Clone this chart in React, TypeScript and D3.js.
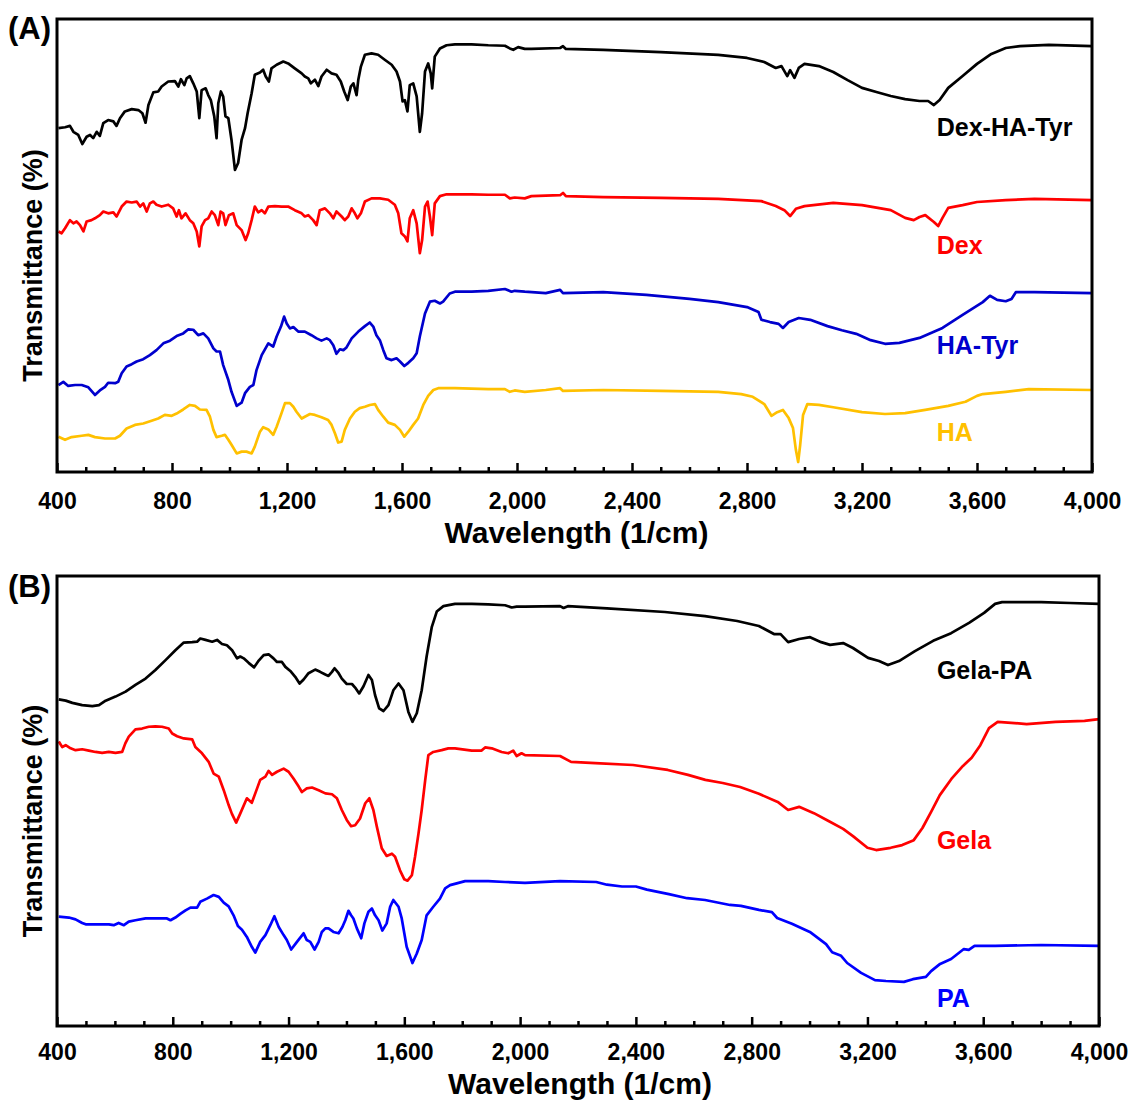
import React, { useEffect, useRef } from "react";
import * as d3 from "d3";

type Pt = [number, number]; // [wavenumber (1/cm), transmittance (a.u., offset per trace)]

// ---- panel A ----
const dexHaTyr: Pt[] = [[405,75.9],[428,76.1],[445,76.4],[457,75.1],[474,74.4],[488,72.4],[503,74.0],[515,74.4],[526,73.7],[538,75.1],[549,74.2],[561,77.0],[578,77.7],[596,77.4],[607,76.4],[619,78.1],[636,79.6],[660,80.1],[683,79.9],[697,79.2],[708,77.1],[718,81.0],[735,83.8],[752,84.0],[764,85.1],[787,86.2],[810,86.3],[822,85.1],[831,86.7],[843,85.4],[851,86.9],[862,87.4],[874,85.8],[886,84.0],[895,78.1],[903,84.3],[917,84.7],[926,83.2],[935,82.1],[947,78.5],[955,73.7],[961,81.4],[970,84.0],[978,82.9],[986,78.5],[996,78.1],[1007,73.3],[1019,66.7],[1030,68.2],[1042,73.3],[1054,75.9],[1063,79.2],[1077,83.6],[1088,87.7],[1106,88.2],[1117,88.8],[1126,87.3],[1137,86.2],[1146,89.1],[1164,89.9],[1187,90.6],[1204,90.2],[1227,89.1],[1251,88.0],[1262,87.3],[1274,86.9],[1283,85.8],[1297,86.6],[1309,85.2],[1320,87.3],[1338,88.8],[1355,88.0],[1372,87.7],[1387,86.2],[1399,84.0],[1411,82.1],[1422,85.1],[1431,85.8],[1442,83.2],[1448,86.6],[1457,89.5],[1471,92.1],[1494,92.4],[1517,92.1],[1540,91.0],[1564,89.9],[1581,88.4],[1593,86.2],[1602,81.8],[1610,82.1],[1619,79.6],[1627,85.4],[1639,85.8],[1651,82.9],[1662,75.1],[1670,79.2],[1680,88.4],[1691,90.2],[1700,88.0],[1705,84.7],[1714,91.7],[1732,93.5],[1755,94.2],[1784,94.4],[1842,94.4],[1900,94.2],[1958,94.1],[1975,93.5],[1987,93.2],[2004,93.8],[2027,93.4],[2050,93.4],[2150,93.6],[2160,94.0],[2170,93.4],[2300,93.2],[2500,92.7],[2700,92.1],[2800,91.4],[2860,90.5],[2900,89.2],[2920,89.6],[2940,87.4],[2950,88.7],[2965,87.0],[2980,89.2],[3000,90.1],[3050,89.6],[3100,88.3],[3150,86.5],[3200,84.8],[3250,83.9],[3300,83.0],[3350,82.3],[3400,81.9],[3430,81.9],[3450,81.0],[3470,82.1],[3500,84.8],[3550,87.4],[3600,90.1],[3650,92.3],[3700,93.6],[3750,94.0],[3850,94.3],[4000,94.0]];

const dex: Pt[] = [[405,53.1],[416,52.7],[428,53.8],[445,55.6],[457,54.9],[468,55.3],[480,54.5],[492,53.1],[503,55.3],[520,55.6],[532,56.0],[549,56.7],[561,57.5],[578,57.1],[596,57.3],[607,56.4],[625,58.6],[642,59.7],[660,59.5],[677,59.7],[689,58.6],[700,59.3],[712,57.5],[723,59.3],[735,59.7],[746,59.0],[764,58.6],[787,59.0],[804,58.2],[816,56.4],[824,57.8],[833,56.0],[847,57.1],[862,55.6],[874,54.9],[886,53.1],[895,49.8],[903,54.2],[915,55.6],[926,56.0],[938,57.5],[949,56.7],[961,54.5],[969,57.5],[978,57.1],[986,54.5],[998,56.7],[1013,57.1],[1025,54.5],[1042,53.4],[1056,51.2],[1065,52.7],[1077,55.6],[1088,58.6],[1100,57.3],[1112,57.8],[1123,57.1],[1135,58.6],[1158,58.7],[1181,58.6],[1204,58.6],[1227,57.8],[1251,57.1],[1262,56.4],[1274,56.7],[1291,55.6],[1303,54.5],[1314,57.8],[1332,58.2],[1349,57.1],[1361,56.0],[1372,57.5],[1390,56.4],[1401,55.6],[1413,56.4],[1425,58.2],[1436,57.1],[1445,56.0],[1457,57.1],[1471,59.7],[1494,60.4],[1523,60.4],[1552,60.1],[1575,59.0],[1587,57.1],[1598,52.7],[1610,52.0],[1619,50.9],[1627,56.0],[1639,57.8],[1651,54.9],[1662,48.3],[1670,51.2],[1680,58.6],[1689,59.7],[1697,56.4],[1705,52.3],[1714,59.3],[1732,60.9],[1755,61.3],[1842,61.3],[1900,61.2],[1958,61.2],[1975,60.4],[1992,60.6],[2027,60.4],[2050,60.9],[2150,61.1],[2160,61.6],[2170,60.9],[2300,60.7],[2500,60.5],[2700,60.3],[2850,59.8],[2900,58.7],[2930,57.8],[2950,56.5],[2970,58.1],[3000,58.7],[3100,59.4],[3200,58.9],[3300,57.8],[3350,56.1],[3380,55.6],[3400,56.3],[3420,56.7],[3450,55.2],[3465,54.3],[3480,56.1],[3500,58.3],[3550,58.9],[3600,59.6],[3700,60.0],[3800,60.3],[4000,60.0]];

const haTyr: Pt[] = [[405,19.2],[422,19.9],[439,19.0],[463,19.2],[486,19.2],[509,18.7],[532,17.0],[549,18.0],[567,18.8],[578,19.7],[602,19.6],[613,19.9],[625,21.8],[642,23.3],[660,23.8],[677,24.4],[700,24.9],[723,25.8],[746,26.9],[770,28.4],[793,29.0],[816,30.0],[839,30.6],[857,31.5],[874,31.4],[891,30.2],[909,30.6],[926,29.5],[944,27.3],[955,26.6],[967,26.6],[978,23.6],[996,20.3],[1007,17.7],[1025,14.6],[1042,15.3],[1054,17.4],[1071,18.8],[1083,19.2],[1094,22.5],[1112,25.8],[1135,28.4],[1152,27.7],[1164,29.9],[1179,32.1],[1190,34.3],[1199,32.8],[1210,31.7],[1222,32.0],[1239,31.0],[1262,31.0],[1285,30.2],[1303,29.5],[1320,29.0],[1338,29.5],[1349,29.1],[1361,28.0],[1372,26.1],[1384,27.1],[1396,26.9],[1407,27.5],[1425,29.5],[1448,31.0],[1471,32.2],[1488,33.0],[1500,32.1],[1511,30.2],[1523,29.1],[1535,26.9],[1546,25.1],[1564,24.7],[1581,25.1],[1593,24.4],[1608,23.4],[1622,24.1],[1639,25.1],[1651,26.2],[1662,29.9],[1680,35.0],[1697,37.6],[1714,37.8],[1732,37.2],[1743,37.6],[1766,39.4],[1784,39.8],[1842,39.8],[1900,40.0],[1958,40.4],[1981,39.8],[1992,40.0],[2027,39.8],[2100,39.5],[2150,40.2],[2160,39.5],[2300,39.7],[2450,39.1],[2600,38.2],[2700,37.5],[2800,36.4],[2840,35.3],[2850,33.6],[2880,33.1],[2910,32.7],[2925,31.8],[2945,33.1],[2980,34.0],[3020,33.6],[3080,32.2],[3130,31.3],[3180,30.5],[3230,29.1],[3280,28.3],[3330,28.5],[3400,29.6],[3480,31.8],[3550,34.7],[3620,37.5],[3645,38.9],[3670,38.0],[3700,37.7],[3720,38.2],[3735,39.7],[3800,39.7],[4000,39.5]];

const ha: Pt[] = [[405,7.8],[428,7.1],[451,7.7],[486,8.0],[509,8.2],[532,7.7],[567,7.4],[602,7.4],[619,8.0],[642,9.6],[671,10.4],[700,10.7],[729,11.3],[752,11.8],[775,12.6],[799,12.4],[816,12.9],[839,13.8],[862,14.8],[880,14.6],[897,13.8],[920,13.7],[932,12.2],[944,9.3],[955,7.7],[973,8.0],[984,8.2],[996,7.1],[1007,6.0],[1025,4.1],[1042,4.5],[1059,4.5],[1077,4.1],[1088,5.6],[1106,8.9],[1117,9.9],[1135,9.4],[1152,8.2],[1164,10.0],[1181,13.0],[1193,15.2],[1210,15.2],[1222,14.4],[1233,13.3],[1251,11.8],[1262,12.2],[1280,12.8],[1297,12.6],[1320,12.1],[1343,11.5],[1355,10.4],[1367,8.5],[1378,6.5],[1390,6.7],[1401,9.3],[1419,11.8],[1436,13.3],[1453,14.1],[1471,14.4],[1488,14.8],[1506,15.0],[1517,13.7],[1535,12.2],[1552,10.9],[1575,10.4],[1593,9.3],[1608,7.8],[1622,8.9],[1639,10.4],[1656,11.8],[1674,14.8],[1691,16.8],[1709,18.1],[1726,18.5],[1784,18.5],[1900,18.3],[1958,18.3],[1975,17.7],[1992,18.0],[2027,17.7],[2100,18.1],[2150,18.5],[2160,17.9],[2300,18.1],[2500,17.9],[2700,17.7],[2780,17.2],[2820,16.6],[2860,15.0],[2885,12.4],[2905,13.2],[2925,13.7],[2945,11.9],[2960,9.7],[2970,4.9],[2978,2.2],[2985,6.0],[2995,12.6],[3010,15.0],[3050,14.8],[3100,14.3],[3200,13.2],[3280,12.8],[3350,13.0],[3420,13.7],[3500,14.6],[3560,15.5],[3600,16.8],[3620,17.2],[3700,17.7],[3780,18.3],[4000,18.1]];

// ---- panel B ----
const gelaPa: Pt[] = [[406,72.6],[430,72.3],[453,71.8],[487,71.3],[522,71.1],[545,71.3],[568,72.3],[602,73.2],[637,74.3],[671,75.8],[706,77.2],[740,79.1],[775,81.3],[809,83.5],[838,85.2],[867,85.3],[884,85.4],[895,86.1],[913,85.8],[936,85.4],[953,85.8],[970,84.9],[987,84.6],[1005,83.5],[1022,81.7],[1033,82.1],[1045,81.7],[1062,80.7],[1081,79.7],[1097,81.2],[1114,82.4],[1131,82.6],[1148,81.7],[1160,80.9],[1177,80.9],[1189,79.8],[1206,78.9],[1223,77.6],[1238,76.1],[1252,77.0],[1269,78.4],[1292,79.2],[1309,78.7],[1327,78.1],[1338,77.8],[1350,78.7],[1359,79.5],[1373,78.4],[1384,77.2],[1401,76.0],[1419,76.0],[1430,75.2],[1444,73.9],[1459,75.5],[1476,78.0],[1488,76.9],[1499,73.5],[1513,70.6],[1528,70.0],[1545,71.3],[1562,74.6],[1580,76.1],[1597,74.6],[1614,69.8],[1628,67.6],[1643,69.5],[1660,74.6],[1677,82.1],[1695,88.7],[1712,92.1],[1735,93.3],[1775,93.8],[1833,93.8],[1890,93.7],[1948,93.5],[1971,93.0],[1988,93.2],[2017,93.2],[2138,93.3],[2150,92.9],[2165,93.3],[2300,92.8],[2500,92.0],[2639,91.1],[2750,90.0],[2825,88.9],[2877,87.1],[2900,87.1],[2926,85.3],[2964,86.0],[3002,86.4],[3040,85.3],[3071,84.7],[3116,85.1],[3150,84.0],[3202,81.8],[3240,81.1],[3271,80.2],[3309,81.1],[3364,83.3],[3427,85.6],[3489,87.3],[3551,89.6],[3603,91.8],[3641,93.8],[3665,94.2],[3800,94.2],[3900,94.0],[4000,93.8]];

const gela: Pt[] = [[406,63.2],[418,62.0],[430,62.4],[447,61.7],[464,61.3],[487,61.5],[510,61.2],[533,60.9],[556,60.7],[579,60.9],[602,60.7],[625,60.9],[636,62.8],[648,64.3],[671,65.9],[694,66.1],[717,66.5],[740,66.6],[763,66.5],[786,66.1],[798,65.0],[815,64.4],[838,63.9],[867,63.7],[878,62.0],[901,60.6],[924,58.7],[941,56.1],[959,55.4],[976,52.4],[993,49.1],[1004,47.2],[1019,45.2],[1033,47.2],[1056,50.6],[1073,49.6],[1085,51.7],[1102,54.7],[1120,55.4],[1131,56.7],[1143,55.8],[1160,56.5],[1183,57.2],[1200,56.5],[1217,55.0],[1235,53.2],[1246,52.0],[1263,52.8],[1281,53.0],[1304,52.4],[1327,51.7],[1350,51.5],[1367,50.6],[1384,48.0],[1401,45.8],[1416,44.4],[1430,44.6],[1447,46.1],[1465,49.5],[1479,50.6],[1493,48.0],[1505,44.3],[1522,39.5],[1539,37.8],[1557,38.3],[1568,37.6],[1585,34.6],[1600,32.6],[1611,32.3],[1626,33.5],[1637,37.6],[1649,42.8],[1660,48.0],[1672,54.6],[1683,60.2],[1700,60.9],[1729,61.3],[1752,61.7],[1775,61.7],[1833,61.2],[1867,61.2],[1879,61.9],[1902,61.7],[1936,60.9],[1959,60.6],[1976,61.2],[1988,60.0],[2005,60.6],[2017,60.2],[2138,60.0],[2176,58.7],[2260,58.4],[2390,58.0],[2510,56.9],[2580,55.8],[2640,54.7],[2700,54.0],[2760,53.1],[2825,51.6],[2890,49.8],[2926,48.0],[2964,48.7],[3015,47.3],[3064,45.6],[3116,43.8],[3150,42.2],[3200,39.6],[3230,39.1],[3280,39.6],[3320,40.2],[3360,41.3],[3390,44.0],[3420,47.6],[3450,51.3],[3490,54.9],[3530,57.8],[3560,59.6],[3590,62.4],[3620,66.2],[3650,67.6],[3750,67.1],[3850,67.6],[3950,67.8],[4000,68.2]];

const pa: Pt[] = [[406,24.3],[441,24.1],[464,23.7],[487,22.9],[499,22.6],[533,22.6],[579,22.6],[596,22.4],[613,22.9],[631,22.4],[648,23.2],[671,23.5],[706,23.9],[740,23.9],[780,23.9],[792,23.5],[809,24.1],[826,24.9],[844,25.7],[861,26.3],[884,26.3],[895,27.6],[918,28.3],[941,29.1],[959,28.7],[976,27.4],[993,26.6],[1010,24.6],[1025,22.2],[1039,21.4],[1056,19.8],[1073,17.6],[1085,16.3],[1102,18.7],[1120,20.2],[1137,22.4],[1151,24.4],[1166,22.0],[1183,20.2],[1194,19.1],[1209,17.0],[1229,18.7],[1252,20.6],[1263,19.1],[1275,18.7],[1290,17.0],[1304,18.7],[1315,20.9],[1327,21.7],[1338,21.7],[1355,20.9],[1373,20.6],[1386,22.0],[1396,23.5],[1407,25.6],[1416,24.6],[1424,23.9],[1436,21.7],[1451,19.5],[1462,22.8],[1476,25.4],[1488,26.1],[1499,24.6],[1511,23.5],[1524,21.2],[1539,22.8],[1551,26.5],[1562,28.0],[1580,26.5],[1591,23.9],[1608,17.6],[1628,14.0],[1643,16.1],[1660,19.1],[1677,24.6],[1700,26.5],[1723,28.3],[1741,30.6],[1758,31.3],[1781,31.7],[1810,32.2],[1890,32.2],[1948,32.0],[2017,31.8],[2138,32.2],[2263,32.0],[2300,31.4],[2352,31.0],[2400,31.0],[2438,30.3],[2514,29.3],[2577,28.4],[2639,28.0],[2725,26.9],[2763,26.7],[2825,25.8],[2870,25.3],[2888,24.0],[2939,22.7],[3001,20.9],[3057,18.2],[3078,16.4],[3109,15.6],[3130,14.0],[3178,11.8],[3226,10.2],[3264,10.0],[3326,9.8],[3357,10.4],[3402,10.9],[3420,12.2],[3451,13.8],[3489,14.9],[3533,17.1],[3550,16.9],[3570,17.8],[3641,17.8],[3800,18.0],[4000,17.8]];

const majorTicks = d3.range(400, 4001, 400);
const minorTicks = d3.range(500, 4000, 100).filter(v => v % 400 !== 0);

const FONT = "'Liberation Sans', Arial, sans-serif";

interface Series { name: string; color: string; data: Pt[]; labelT: number; }
interface Panel {
  letter: string; left: number; right: number; top: number; bottom: number;
  tickPad: number; titleY: number; letterY: number; labelWn: number; series: Series[];
}

const panels: Panel[] = [
  {
    letter: "(A)", left: 57, right: 1092, top: 19, bottom: 472,
    tickPad: 21, titleY: 543, letterY: 39, labelWn: 3460,
    series: [
      { name: "Dex-HA-Tyr", color: "#000000", data: dexHaTyr, labelT: 76.2 },
      { name: "Dex", color: "#ff0000", data: dex, labelT: 50.1 },
      { name: "HA-Tyr", color: "#0000cd", data: haTyr, labelT: 28.0 },
      { name: "HA", color: "#ffc000", data: ha, labelT: 8.8 },
    ],
  },
  {
    letter: "(B)", left: 57, right: 1099, top: 576, bottom: 1026,
    tickPad: 18, titleY: 1094, letterY: 597, labelWn: 3440,
    series: [
      { name: "Gela-PA", color: "#000000", data: gelaPa, labelT: 79.1 },
      { name: "Gela", color: "#ff0000", data: gela, labelT: 41.3 },
      { name: "PA", color: "#0000ff", data: pa, labelT: 6.2 },
    ],
  },
];

function drawPanel(svg: d3.Selection<SVGSVGElement, unknown, null, undefined>, p: Panel) {
  const x = d3.scaleLinear().domain([400, 4000]).range([p.left, p.right]);
  const y = d3.scaleLinear().domain([0, 100]).range([p.bottom, p.top]);
  const g = svg.append("g");

  const line = d3.line<Pt>().x(d => x(d[0])).y(d => y(d[1]));

  p.series.forEach(s => {
    g.append("path")
      .datum(s.data)
      .attr("fill", "none")
      .attr("stroke", s.color)
      .attr("stroke-width", 2.7)
      .attr("stroke-linejoin", "round")
      .attr("d", line);

    g.append("text")
      .attr("x", x(p.labelWn))
      .attr("y", y(s.labelT))
      .attr("dy", "0.36em")
      .attr("fill", s.color)
      .attr("font-family", FONT)
      .attr("font-weight", "bold")
      .attr("font-size", 25)
      .text(s.name);
  });

  // minor ticks (inside)
  g.append("g")
    .attr("transform", `translate(0,${p.bottom})`)
    .call(d3.axisBottom(x).tickValues(minorTicks).tickSize(-5).tickFormat(() => ""))
    .call(a => a.select(".domain").remove())
    .selectAll("line").attr("stroke", "#000").attr("stroke-width", 2.5);

  // major ticks + labels
  const ax = g.append("g")
    .attr("transform", `translate(0,${p.bottom})`)
    .call(d3.axisBottom(x).tickValues(majorTicks).tickSizeInner(-9).tickSizeOuter(0)
      .tickPadding(p.tickPad).tickFormat(d3.format(",")))
    .call(a => a.select(".domain").remove());
  ax.selectAll("line").attr("stroke", "#000").attr("stroke-width", 2.5);
  ax.selectAll("text")
    .attr("fill", "#000")
    .attr("font-family", FONT)
    .attr("font-weight", "bold")
    .attr("font-size", 23);

  // frame
  g.append("rect")
    .attr("x", p.left).attr("y", p.top)
    .attr("width", p.right - p.left).attr("height", p.bottom - p.top)
    .attr("fill", "none").attr("stroke", "#000").attr("stroke-width", 3);

  // axis titles
  g.append("text")
    .attr("x", (p.left + p.right) / 2 + 2)
    .attr("y", p.titleY)
    .attr("text-anchor", "middle")
    .attr("font-family", FONT).attr("font-weight", "bold").attr("font-size", 30)
    .text("Wavelength (1/cm)");

  g.append("text")
    .attr("transform", `translate(42,${(p.top + p.bottom) / 2 + 20}) rotate(-90)`)
    .attr("text-anchor", "middle")
    .attr("font-family", FONT).attr("font-weight", "bold").attr("font-size", 27)
    .text("Transmittance (%)");

  g.append("text")
    .attr("x", 8).attr("y", p.letterY)
    .attr("font-family", FONT).attr("font-weight", "bold").attr("font-size", 31)
    .text(p.letter);
}

export default function App() {
  const ref = useRef<SVGSVGElement>(null);

  useEffect(() => {
    const svg = d3.select(ref.current as SVGSVGElement);
    svg.selectAll("*").remove();
    panels.forEach(p => drawPanel(svg, p));
  }, []);

  return (
    <svg
      ref={ref}
      width={1129}
      height={1100}
      style={{ position: "absolute", left: 0, top: 0, background: "#fff" }}
    />
  );
}
